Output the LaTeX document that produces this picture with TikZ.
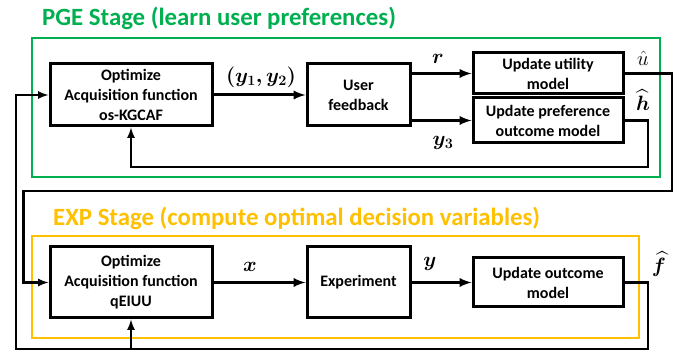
\documentclass[tikz,border=0pt]{standalone}
\usepackage[svgnames, dvipsnames]{xcolor}
\usepackage{amsmath,amssymb}
\usepackage{bm}
\usepackage{fontspec}
\setmainfont{Carlito}
\usetikzlibrary{calc, arrows.meta}
\tikzset{>=latex}
\definecolor{pgegreen}{RGB}{0,176,80}
\definecolor{expgold}{RGB}{255,192,0}
\tikzset{
  blk/.style={draw, line width=3pt, align=center, font=\fontsize{16}{20}\selectfont\bfseries, inner sep=0pt},
  flow/.style={line width=3pt, ->},
  back/.style={line width=2.5pt, ->},
  lbl/.style={font=\fontsize{22}{22}\selectfont, inner sep=0pt},
  stage/.style={font=\fontsize{24.8}{25}\selectfont\bfseries, anchor=west, inner sep=0pt}
}

\begin{document}
\begin{tikzpicture}[x=1pt, y=-1pt]
\useasboundingbox (0,0) rectangle (683,352);
% stage frames
\draw[pgegreen, line width=2.2pt] (32,38) rectangle (660,177);
\draw[expgold, line width=2.2pt] (32,236) rectangle (639,338);
\node[stage, text=pgegreen] (pgetitle) at (42,18) {PGE Stage (learn user preferences)};
\node[stage, text=expgold] (exptitle) at (53,218) {EXP Stage (compute optimal decision variables)};
% PGE stage
\node[blk, minimum width=162pt, minimum height=62pt] (optA) at (131,95) {Optimize\\Acquisition function\\os-KGCAF};
\node[blk, minimum width=103pt, minimum height=62pt] (user) at (358.5,95) {User\\feedback};
\node[blk, minimum width=150pt, minimum height=41pt] (util) at (548,73.5) {Update utility\\model};
\node[blk, minimum width=150pt, minimum height=45pt] (pref) at (548,120.5) {Update preference\\outcome model};
% EXP stage
\node[blk, minimum width=162pt, minimum height=71pt] (optB) at (131,282.5) {Optimize\\Acquisition function\\qEIUU};
\node[blk, minimum width=103pt, minimum height=71pt] (expt) at (358.5,282.5) {Experiment};
\node[blk, minimum width=150pt, minimum height=49pt] (outc) at (548,282.5) {Update outcome\\model};
% connectors
\draw[flow] (optA) -- (user);
\draw[flow] (user.east |- util.west) -- (util.west);
\draw[flow] (user.east |- pref.west) -- (pref.west);
\draw[flow] (optB) -- (expt);
\draw[flow] (expt) -- (outc);
\coordinate (uturn) at (672,191);
\coordinate (hturn) at (648,167);
\coordinate (fturn) at (648,349);
\coordinate (fleft) at (16,349);
\draw[back] (util.east) -| (uturn) -| ($(optB.west)+(-25,0)$) -- (optB.west);
\draw[back] (pref.east) -| (hturn) -| (optA.south);
\draw[back] (outc.east) -| (fturn) -- (fleft) |- (optA.west);
\draw[back] (optB.south |- fturn) -- (optB.south);
% labels
\node[lbl] (ly12) at (261,77) {$\boldsymbol{(y_1,y_2)}$};
\node[lbl] (lr) at (438,59) {$\boldsymbol{r}$};
\node[lbl] (ly3) at (443,143) {$\boldsymbol{y_3}$};
\node[lbl] (lu) at (643,58) {$\hat{u}$};
\node[lbl] (lh) at (643,100) {$\boldsymbol{\widehat{h}}$};
\node[lbl] (lx) at (250,267) {$\boldsymbol{x}$};
\node[lbl] (ly) at (430,264) {$\boldsymbol{y}$};
\node[lbl] (lf) at (659,264) {$\boldsymbol{\widehat{f}}$};
\end{tikzpicture}
\end{document}
